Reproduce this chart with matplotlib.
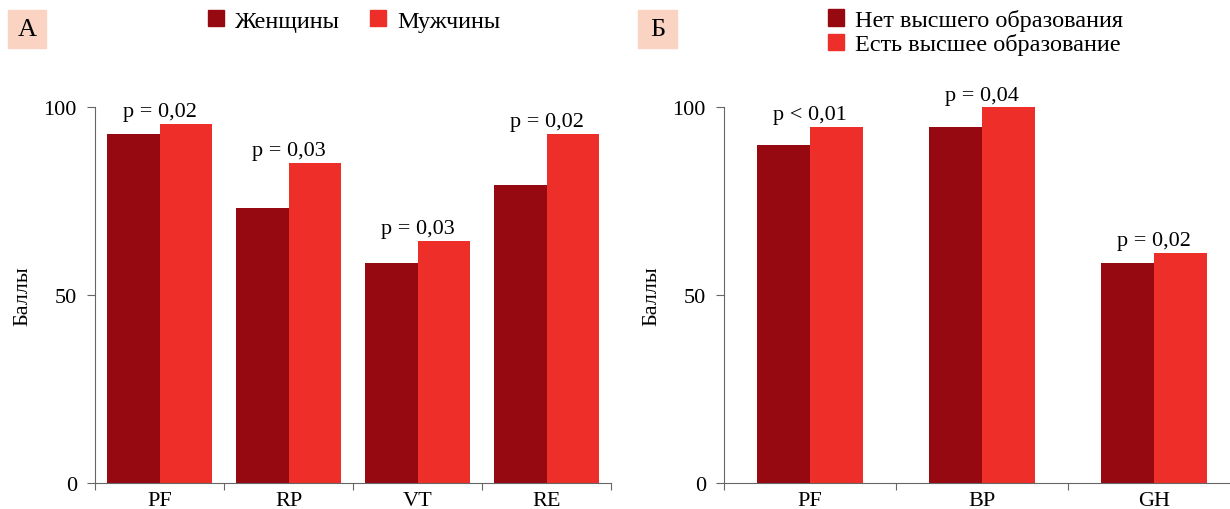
import numpy as np
import matplotlib
matplotlib.use("Agg")
import matplotlib.pyplot as plt
from matplotlib.patches import Patch, Rectangle

plt.rcParams['font.family'] = ['Liberation Serif', 'DejaVu Serif']

# panel A
cats_a = ["PF", "RP", "VT", "RE"]
women = [92.9, 73.2, 58.5, 79.3]
men = [95.5, 85.2, 64.4, 92.9]
p_a = ["p = 0,02", "p = 0,03", "p = 0,03", "p = 0,02"]

# panel Б
cats_b = ["PF", "BP", "GH"]
no_higher = [90.0, 94.8, 58.5]
higher = [94.8, 100.0, 61.2]
p_b = ["p < 0,01", "p = 0,04", "p = 0,02"]

dark = "#960910"
bright = "#EE2E29"
grey = "#666666"

W, H = 1230, 510
fig = plt.figure(figsize=(W / 100, H / 100), dpi=100)


def px_axes(x0, x1, y_top, y_bot):
    return fig.add_axes([x0 / W, 1 - y_bot / H, (x1 - x0) / W, (y_bot - y_top) / H])


def draw_panel(ax, cats, s1, s2, plabels, width):
    x = np.arange(len(cats))
    ax.bar(x - width / 2, s1, width, color=dark, zorder=2)
    ax.bar(x + width / 2, s2, width, color=bright, zorder=2)
    for xi, a, b, t in zip(x, s1, s2, plabels):
        ax.annotate(t, (xi, max(a, b)), xytext=(0, 2), textcoords="offset points",
                    ha="center", va="bottom", fontsize=16, annotation_clip=False)
    ax.set_xlim(-0.5, len(cats) - 0.5)
    ax.set_ylim(0, 100)
    ax.set_yticks([0, 50, 100])
    ax.set_xticks(x)
    ax.set_xticklabels(cats)
    ax.set_xticks(np.arange(len(cats) + 1) - 0.5, minor=True)
    ax.tick_params(axis="x", which="major", length=0, pad=6, labelsize=16)
    ax.tick_params(axis="x", which="minor", length=5, width=0.8, color=grey, direction="out")
    ax.tick_params(axis="y", length=6, width=0.8, color=grey, pad=7, labelsize=16)
    for s in ["top", "right"]:
        ax.spines[s].set_visible(False)
    for s in ["left", "bottom"]:
        ax.spines[s].set_color(grey)
        ax.spines[s].set_linewidth(0.8)
    ax.set_ylabel("Баллы", fontsize=16, labelpad=8)


ax1 = px_axes(95, 611, 108.3, 483.7)
draw_panel(ax1, cats_a, women, men, p_a, 0.41)

ax2 = px_axes(724, 1240, 108.3, 483.7)
draw_panel(ax2, cats_b, no_higher, higher, p_b, 0.308)

# panel letters
for (x0, x1), letter in [((8, 46), "А"), ((638, 677), "Б")]:
    fig.patches.append(Rectangle((x0 / W, 1 - 49 / H), (x1 - x0) / W, 38 / H,
                                 transform=fig.transFigure, color="#FBD3C3", zorder=0))
    fig.text((x0 + x1) / 2 / W, 1 - 30 / H, letter, ha="center", va="center", fontsize=19)

# legends
leg_kw = dict(loc="upper left", frameon=False, fontsize=17.5, handlelength=0.66,
              handleheight=0.66, handletextpad=0.45, borderpad=0, borderaxespad=0)
fig.legend(handles=[Patch(color=dark, label="Женщины"), Patch(color=bright, label="Мужчины")],
           bbox_to_anchor=(208 / W, 1 - 11 / H), ncol=2, columnspacing=1.25, **leg_kw)
fig.legend(handles=[Patch(color=dark, label="Нет высшего образования"),
                    Patch(color=bright, label="Есть высшее образование")],
           bbox_to_anchor=(828 / W, 1 - 10 / H), ncol=1, labelspacing=0.1, **leg_kw)

fig.savefig("out.png", dpi=100)
